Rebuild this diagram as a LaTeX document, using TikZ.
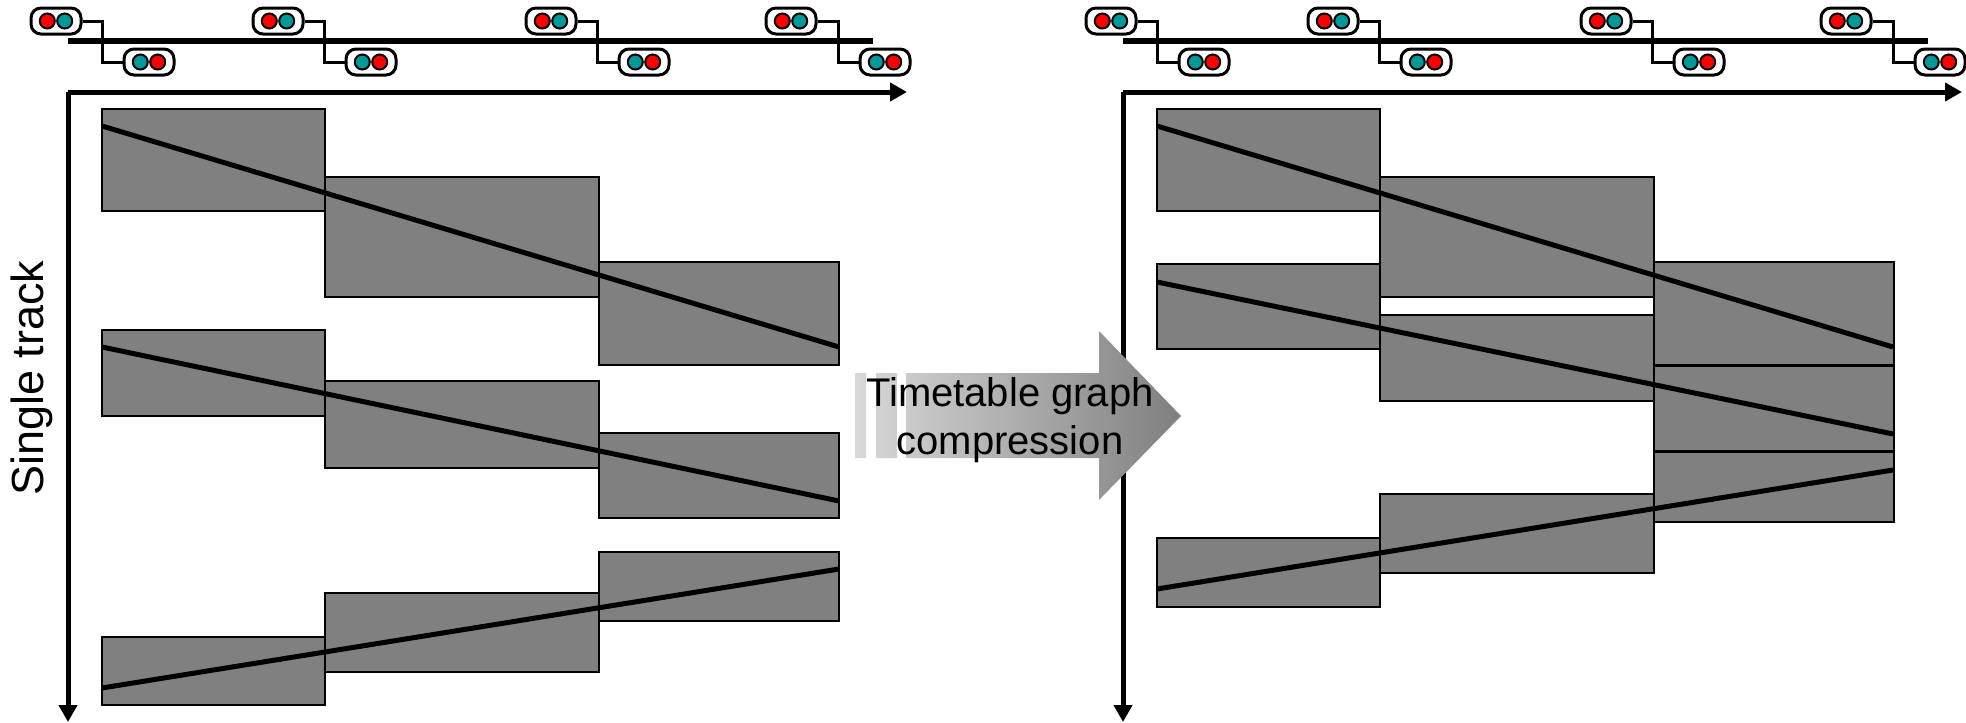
\documentclass[tikz,border=0pt]{standalone}
\usepackage{fontspec}
\setmainfont{Liberation Sans}
\usetikzlibrary{arrows.meta,calc}
\definecolor{lampteal}{RGB}{0,153,153}

\begin{document}
\begin{tikzpicture}[x=1pt,y=-1pt,
		axisline/.style={line width=5pt,-{Triangle[length=17pt,width=18pt]}},
		block/.style={draw=black,line width=2.7pt,fill=gray,anchor=north west,inner sep=0pt,outer sep=0pt},
		train/.style={line width=5pt,black},
		signalbox/.style={draw=black,line width=3pt,fill=white,rounded corners=10pt,minimum width=50pt,minimum height=26pt,inner sep=0pt},
		lamp/.style={circle,draw=black,line width=2pt,minimum size=15pt,inner sep=0pt},
		stem/.style={line width=3pt}]
		\useasboundingbox (0,0) rectangle (1966,723);
		
		% track, signals and axes of both graphs
		\foreach \p/\dx in {L/0,R/1055} {
			\begin{scope}[xshift=\dx pt]
				\coordinate (\p T0) at (68,41);
				\coordinate (\p T1) at (873,41);
				\coordinate (\p O) at (68,92);
				\coordinate (\p X) at (907,92);
				\coordinate (\p Y) at (68,722);
				\draw[line width=6.5pt] (\p T0) -- (\p T1);
				\draw[axisline] (\p X -| \p O) -- (\p X);
				\draw[axisline] (\p O) -- (\p Y);
				\foreach \i/\ux/\lx in {1/56/149,2/278/371,3/551/644,4/791/885} {
					\node[signalbox] (\p U\i) at (\ux,21) {};
					\node[signalbox] (\p D\i) at (\lx,62) {};
					\node[lamp,fill=red] at ([xshift=-8.7pt]\p U\i.center) {};
					\node[lamp,fill=lampteal] at ([xshift=8.7pt]\p U\i.center) {};
					\node[lamp,fill=lampteal] at ([xshift=-8.7pt]\p D\i.center) {};
					\node[lamp,fill=red] at ([xshift=8.7pt]\p D\i.center) {};
					\draw[stem] (\p U\i.east) -| ($(\p U\i.east)!.5!(\p D\i.west)$) |- (\p D\i.west);
				}
			\end{scope}
		}
		
		% left graph
		\node[block,minimum width=223pt,minimum height=102pt] (A1) at (102,109) {};
		\node[block,minimum width=274pt,minimum height=120pt] (A2) at (325,177) {};
		\node[block,minimum width=240pt,minimum height=103pt] (A3) at (599,262) {};
		\node[block,minimum width=223pt,minimum height=86pt]  (B1) at (102,330) {};
		\node[block,minimum width=274pt,minimum height=87pt]  (B2) at (325,381) {};
		\node[block,minimum width=240pt,minimum height=85pt]  (B3) at (599,433) {};
		\node[block,minimum width=223pt,minimum height=68pt]  (C1) at (102,637) {};
		\node[block,minimum width=274pt,minimum height=79pt]  (C2) at (325,593) {};
		\node[block,minimum width=240pt,minimum height=69pt]  (C3) at (599,552) {};
		
		\coordinate (A0) at (102,126);
		\coordinate (A9) at (839,347);
		\coordinate (B0) at (102,347);
		\coordinate (B9) at (839,501);
		\coordinate (C0) at (102,688);
		\coordinate (C9) at (839,569);
		\draw[train] (A0) -- (A9);
		\draw[train] (B0) -- (B9);
		\draw[train] (C0) -- (C9);
		
		% right graph
		\node[block,minimum width=223pt,minimum height=102pt] (D1) at (1157,109) {};
		\node[block,minimum width=274pt,minimum height=120pt] (D2) at (1380,177) {};
		\node[block,minimum width=240pt,minimum height=103pt] (D3) at (1654,262) {};
		\node[block,minimum width=223pt,minimum height=85pt]  (E1) at (1157,264) {};
		\node[block,minimum width=274pt,minimum height=86pt]  (E2) at (1380,315) {};
		\node[block,minimum width=240pt,minimum height=85pt]  (E3) at (1654,366) {};
		\node[block,minimum width=223pt,minimum height=69pt]  (F1) at (1157,538) {};
		\node[block,minimum width=274pt,minimum height=79pt]  (F2) at (1380,494) {};
		\node[block,minimum width=240pt,minimum height=70pt]  (F3) at (1654,452) {};
		
		\coordinate (D0) at (1157,126);
		\coordinate (D9) at (1893,347);
		\coordinate (E0) at (1157,282);
		\coordinate (E9) at (1893,434);
		\coordinate (F0) at (1157,589);
		\coordinate (F9) at (1893,470);
		\draw[train] (D0) -- (D9);
		\draw[train] (E0) -- (E9);
		\draw[train] (F0) -- (F9);
		
		% striped arrow between the graphs
		\shade[left color=black!15,right color=gray]
			(855,373) rectangle (866,458)
			(876,373) rectangle (897,458)
			(906,373) -- (1099,373) -- (1099,331) -- (1181,416) -- (1099,500) -- (1099,458) -- (906,458) -- cycle;
		\node[align=center,font=\fontsize{40}{48}\selectfont] (arrowtext) at (1010,420) {Timetable graph\\compression};
		\node[rotate=90,font=\fontsize{45}{54}\selectfont] (ylabel) at (31.5,378) {Single track};
		\end{tikzpicture}
\end{document}
